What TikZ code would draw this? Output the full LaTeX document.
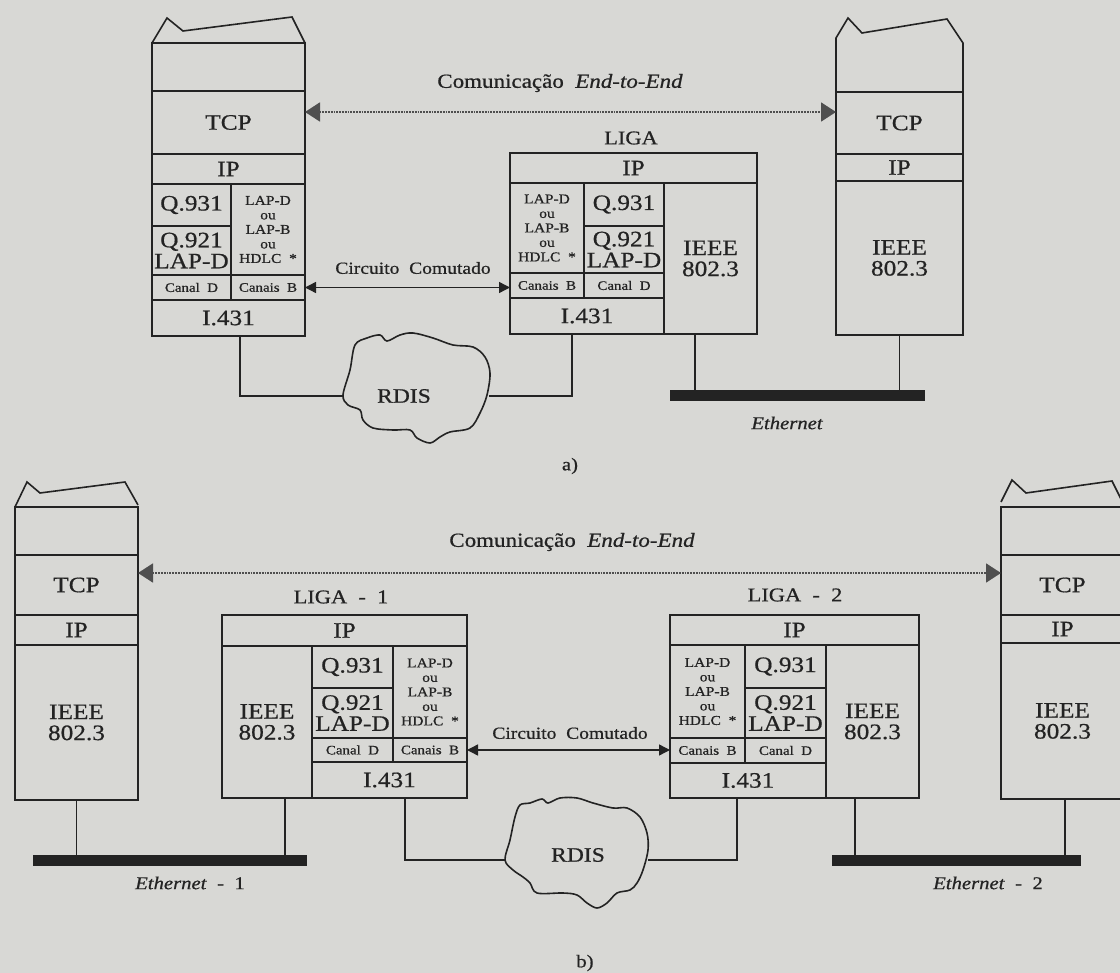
\documentclass[tikz,border=0pt]{standalone}
\usepackage{fontspec}
\setmainfont{Liberation Serif}[FakeStretch=1.15,FakeBold=0.7]
\usetikzlibrary{arrows.meta}
\definecolor{bg}{RGB}{216,216,213}
\definecolor{ink}{RGB}{35,35,35}
\newcommand\cell[7][]{\node[cellbox,minimum width={(#5-#3)*1pt},minimum height={(#6-#4)*1pt},#1] (#2) at ({(#3+#5)/2},{(#4+#6)/2}) {#7};}
\tikzset{
  cellbox/.style={draw=ink, line width=1.6pt, inner sep=0pt, outer sep=0pt, align=center, text=ink, font=\fontsize{22}{21}\selectfont},
  smalltxt/.style={font=\fontsize{13.5}{14.5}\selectfont},
  chantxt/.style={font=\fontsize{13}{14}\selectfont},
  lbl/.style={text=ink, inner sep=0pt, align=center},
  wire/.style={draw=ink, line width=1.6pt, line join=miter},
  ebar/.style={fill=ink, draw=none, minimum height=11pt, inner sep=0pt, outer sep=0pt},
  comm/.style={draw=ink!80, line width=1.8pt, densely dotted, {Triangle[length=15pt,width=19pt]}-{Triangle[length=15pt,width=19pt]}},
  circ/.style={draw=ink, line width=1.4pt, {Triangle[length=11pt,width=11pt]}-{Triangle[length=11pt,width=11pt]}}
}
\begin{document}
\begin{tikzpicture}[x=1pt,y=-1pt]
\useasboundingbox (0,0) rectangle (1120,973);
\fill[bg] (0,0) rectangle (1120,973);
\clip (0,0) rectangle (1120,973);

% ================= a) =================
% left host
\draw[wire] (152,43) -- (167,18) -- (183,31) -- (292,17) -- (305,43);
\cell{tlE}{152}{43}{305}{91}{}
\cell{tlTCP}{152}{91}{305}{154}{TCP}
\cell{tlIP}{152}{154}{305}{184}{IP}
\cell{tlQa}{152}{184}{231}{226}{Q.931}
\cell{tlQb}{152}{226}{231}{275}{Q.921\\LAP-D}
\cell[smalltxt]{tlLAP}{231}{184}{305}{275}{LAP-D\\ou\\LAP-B\\ou\\HDLC\ \ *}
\cell[chantxt]{tlCD}{152}{275}{231}{300}{Canal\ \ D}
\cell[chantxt]{tlCB}{231}{275}{305}{300}{Canais\ \ B}
\cell{tlI}{152}{300}{305}{336}{I.431}

% LIGA
\node[lbl, font=\fontsize{19.5}{20}\selectfont] (ligaA) at (631,138) {LIGA};
\cell{mIP}{510}{153}{757}{183}{IP}
\cell[smalltxt]{mLAP}{510}{183}{584}{273}{LAP-D\\ou\\LAP-B\\ou\\HDLC\ \ *}
\cell{mQa}{584}{183}{664}{226}{Q.931}
\cell{mQb}{584}{226}{664}{273}{Q.921\\LAP-D}
\cell[chantxt]{mCB}{510}{273}{584}{298}{Canais\ \ B}
\cell[chantxt]{mCD}{584}{273}{664}{298}{Canal\ \ D}
\cell{mI}{510}{298}{664}{334}{I.431}
\cell{mIEEE}{664}{183}{757}{334}{IEEE\\802.3}

% right host
\draw[wire] (836,92) -- (836,38) -- (848,18) -- (862,33) -- (947,19) -- (963,43) -- (963,92);
\cell{rTCP}{836}{92}{963}{154}{TCP}
\cell{rIP}{836}{154}{963}{181}{IP}
\cell{rIEEE}{836}{181}{963}{335}{IEEE\\802.3}

% ethernet a
\node[ebar, minimum width=255pt] (ethA) at (797.5,395.5) {};
\node[lbl, font=\fontsize{18}{18}\selectfont\itshape] (ethAl) at (787,423) {Ethernet};
\draw[wire] (rIEEE.south) -- (rIEEE.south |- ethA.north);
\draw[wire] ([xshift=-15.5pt]mIEEE.south) -- ([xshift=-15.5pt]mIEEE.south |- ethA.north);

% RDIS a
\draw[wire] plot[smooth cycle, tension=0.55] coordinates {(343,395) (350,370) (355,345) (367,338) (380,335) (387,341) (400,335) (413,333) (433,338) (453,345) (473,347) (485,357) (490,373) (487,395) (480,413) (470,428) (450,432) (440,437) (430,443) (417,438) (410,430) (393,430) (373,428) (363,420) (360,410) (348,405)};
\node[lbl, font=\fontsize{20.5}{21}\selectfont] (rdisA) at (404,396) {RDIS};
\coordinate (rdisAw) at (343,396);
\coordinate (rdisAe) at (489,396);
\draw[wire] ([xshift=11.5pt]tlI.south) |- (rdisAw);
\draw[wire] ([xshift=-15pt]mI.south) |- (rdisAe);

% arrows a
\node[lbl, font=\fontsize{20}{20}\selectfont] (commA) at (560,83) {Comunicação\ \ \textit{End-to-End}};
\draw[comm] (tlTCP.east |- 0,112) -- (rTCP.west |- 0,112);
\node[lbl, font=\fontsize{17}{17}\selectfont] (circA) at (413,268) {Circuito\ \ Comutado};
\draw[circ] (tlCB.east) -- (tlCB.east -| mCB.west);
\node[lbl, font=\fontsize{18}{18}\selectfont] (capA) at (570,466) {a)};

% ================= b) =================
% left host
\draw[wire] (15,507) -- (27,482) -- (40,493) -- (125,482) -- (138,505);
\cell{blE}{15}{507}{138}{555}{}
\cell{blTCP}{15}{555}{138}{615}{TCP}
\cell{blIP}{15}{615}{138}{645}{IP}
\cell{blIEEE}{15}{645}{138}{800}{IEEE\\802.3}

% LIGA - 1
\node[lbl, font=\fontsize{19.5}{20}\selectfont] (liga1) at (341,597) {LIGA\ \ -\ \ 1};
\cell{aIP}{222}{615}{467}{646}{IP}
\cell{aIEEE}{222}{646}{312}{798}{IEEE\\802.3}
\cell{aQa}{312}{646}{393}{688}{Q.931}
\cell{aQb}{312}{688}{393}{738}{Q.921\\LAP-D}
\cell[smalltxt]{aLAP}{393}{646}{467}{738}{LAP-D\\ou\\LAP-B\\ou\\HDLC\ \ *}
\cell[chantxt]{aCD}{312}{738}{393}{762}{Canal\ \ D}
\cell[chantxt]{aCB}{393}{738}{467}{762}{Canais\ \ B}
\cell{aI}{312}{762}{467}{798}{I.431}

% LIGA - 2
\node[lbl, font=\fontsize{19.5}{20}\selectfont] (liga2) at (795,595) {LIGA\ \ -\ \ 2};
\cell{bIP}{670}{615}{919}{645}{IP}
\cell[smalltxt]{bLAP}{670}{645}{745}{738}{LAP-D\\ou\\LAP-B\\ou\\HDLC\ \ *}
\cell{bQa}{745}{645}{826}{688}{Q.931}
\cell{bQb}{745}{688}{826}{738}{Q.921\\LAP-D}
\cell[chantxt]{bCB}{670}{738}{745}{763}{Canais\ \ B}
\cell[chantxt]{bCD}{745}{738}{826}{763}{Canal\ \ D}
\cell{bI}{670}{763}{826}{798}{I.431}
\cell{bIEEE}{826}{645}{919}{798}{IEEE\\802.3}

% right host
\draw[wire] (1001,502) -- (1012,480) -- (1026,493) -- (1112,481) -- (1124,505);
\cell{brE}{1001}{507}{1124}{555}{}
\cell{brTCP}{1001}{555}{1124}{615}{TCP}
\cell{brIP}{1001}{615}{1124}{643}{IP}
\cell{brIEEE}{1001}{643}{1124}{799}{IEEE\\802.3}

% ethernet b
\node[ebar, minimum width=274pt] (eth1) at (170,860) {};
\node[ebar, minimum width=249pt] (eth2) at (956.5,860) {};
\node[lbl, font=\fontsize{18}{18}\selectfont] (eth1l) at (190,883) {\textit{Ethernet}\ \ -\ \ 1};
\node[lbl, font=\fontsize{18}{18}\selectfont] (eth2l) at (988,883) {\textit{Ethernet}\ \ -\ \ 2};
\draw[wire] (blIEEE.south) -- (blIEEE.south |- eth1.north);
\draw[wire] ([xshift=18pt]aIEEE.south) -- ([xshift=18pt]aIEEE.south |- eth1.north);
\draw[wire] ([xshift=-17.5pt]bIEEE.south) -- ([xshift=-17.5pt]bIEEE.south |- eth2.north);
\draw[wire] ([xshift=2.5pt]brIEEE.south) -- ([xshift=2.5pt]brIEEE.south |- eth2.north);

% RDIS b
\draw[wire] plot[smooth cycle, tension=0.55] coordinates {(505,860) (510,840) (515,817) (520,805) (530,803) (542,799) (548,803) (560,798) (577,798) (593,803) (613,808) (627,808) (640,817) (647,833) (648,850) (643,870) (637,883) (630,890) (617,893) (607,903) (597,908) (587,903) (577,895) (563,893) (537,893) (530,883) (523,877) (513,870)};
\node[lbl, font=\fontsize{20.5}{21}\selectfont] (rdisB) at (578,855) {RDIS};
\coordinate (rdisBw) at (505,860);
\coordinate (rdisBe) at (648,860);
\draw[wire] ([xshift=15.5pt]aI.south) |- (rdisBw);
\draw[wire] ([xshift=-11pt]bI.south) |- (rdisBe);

% arrows b
\node[lbl, font=\fontsize{20}{20}\selectfont] (commB) at (572,542) {Comunicação\ \ \textit{End-to-End}};
\draw[comm] (blTCP.east |- 0,573) -- (brTCP.west |- 0,573);
\node[lbl, font=\fontsize{17}{17}\selectfont] (circB) at (570,733) {Circuito\ \ Comutado};
\draw[circ] (aCB.east) -- (aCB.east -| bCB.west);
\node[lbl, font=\fontsize{18}{18}\selectfont] (capB) at (585,963) {b)};
\end{tikzpicture}
\end{document}
